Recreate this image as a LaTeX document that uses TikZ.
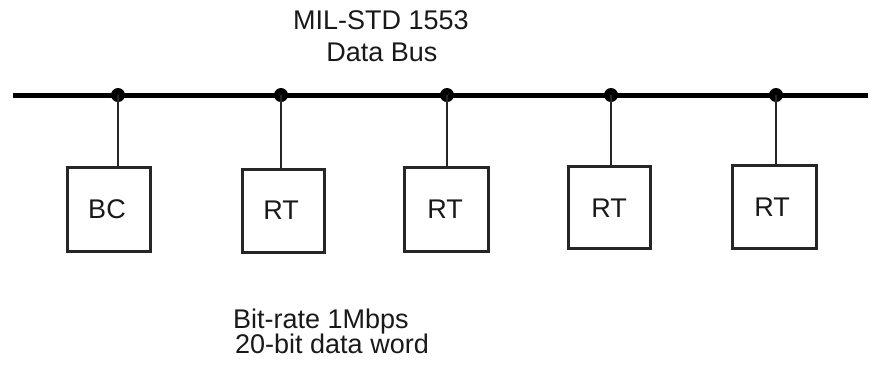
\documentclass[tikz,border=0pt]{standalone}
\usepackage{fontspec}
\setmainfont{Liberation Sans}
\begin{document}
\begin{tikzpicture}[x=1pt,y=-1pt,
  unitbox/.style={draw=black!85, line width=2.6pt, rectangle, inner sep=0pt, anchor=north west},
  tap/.style={circle, fill=black, inner sep=0pt, minimum size=14pt},
  stub/.style={draw=black!85, line width=2.6pt},
  lbl/.style={font=\fontsize{27}{30}\selectfont, inner sep=0pt, text=black!90}]
\useasboundingbox (0,0) rectangle (870,368);

% bus ends
\coordinate (busL) at (13,95);
\coordinate (busR) at (868,95);

% data bus line
\draw[black, line width=5pt] (busL) -- (busR);

% terminals on the bus
\node[unitbox, minimum width=83pt, minimum height=84pt] (bc) at (66,166) {};
\node[unitbox, minimum width=82pt, minimum height=83pt] (rt1) at (241,168) {};
\node[unitbox, minimum width=84pt, minimum height=84pt] (rt2) at (403,166) {};
\node[unitbox, minimum width=82pt, minimum height=82pt] (rt3) at (567,165) {};
\node[unitbox, minimum width=84pt, minimum height=83pt] (rt4) at (731,164) {};

% box labels
\node[lbl, anchor=base] at (107,218) {BC};
\node[lbl, anchor=base] at (281,219) {RT};
\node[lbl, anchor=base] at (445,218) {RT};
\node[lbl, anchor=base] at (609,217) {RT};
\node[lbl, anchor=base] at (772,216) {RT};

% bus junctions
\node[tap] (d1) at (118,95) {};
\node[tap] (d2) at (281,95) {};
\node[tap] (d3) at (447,95) {};
\node[tap] (d4) at (611,95) {};
\node[tap] (d5) at (776,95) {};

% stubs
\draw[stub] (d1.center) -- (d1.center |- bc.north);
\draw[stub] (d2.center) -- (d2.center |- rt1.north);
\draw[stub] (d3.center) -- (d3.center |- rt2.north);
\draw[stub] (d4.center) -- (d4.center |- rt3.north);
\draw[stub] (d5.center) -- (d5.center |- rt4.north);

% titles
\node[lbl, anchor=base] (t1) at (381,29) {MIL-STD 1553};
\node[lbl, anchor=base] (t2) at (382,61) {Data Bus};
\node[lbl, anchor=base west] (n1) at (233,328) {Bit-rate 1Mbps};
\node[lbl, anchor=base west] (n2) at (235,353) {20-bit data word};
\end{tikzpicture}
\end{document}
